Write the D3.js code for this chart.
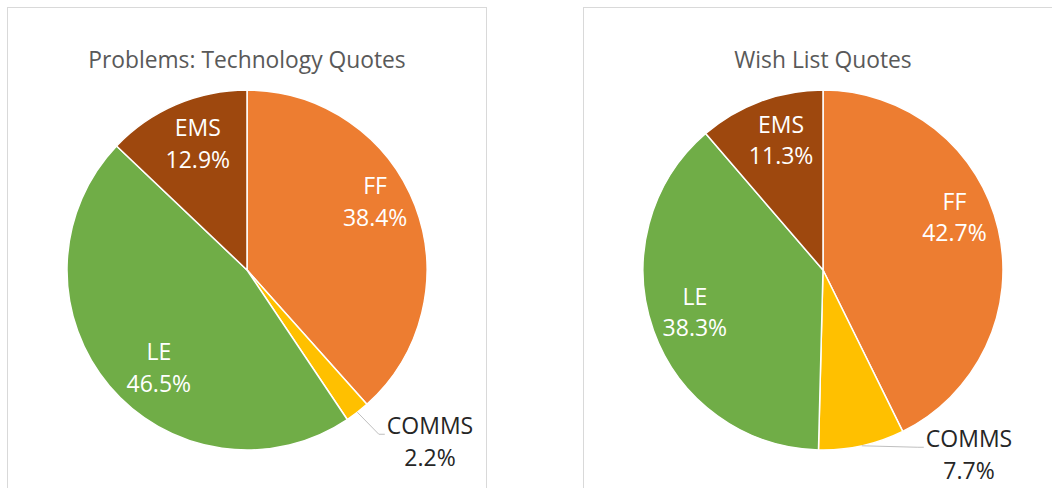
<!DOCTYPE html>
<html>
<head>
<meta charset="utf-8">
<script src="https://cdn.jsdelivr.net/npm/d3@7"></script>
<style>
  html, body { margin: 0; padding: 0; background: #fff; }
  svg { display: block; font-family: "Open Sans", sans-serif; }
</style>
</head>
<body>
<div id="graphicContainer"></div>
<script>

const categories = ["FF", "COMMS", "LE", "EMS"]

const colorsList = ["#ED7D31", "#FFC000", "#70AD47", "#9E480E"]

const techValues = [38.4, 2.2, 46.5, 12.9]

const wishValues = [42.7, 7.7, 38.3, 11.3]

const titles = ["Problems: Technology Quotes", "Wish List Quotes"]

// label placement tweaks (px), relative to the slice centroid
const nudges = [
  { FF: [2, -20], LE: [15, 11], EMS: [4, -2] },
  { FF: [0, -22], LE: [-1, -3], EMS: [5, -3] }
]

// outside label offset for the small slice, relative to pie centre
const outside = [[183, 172], [146, 185]]

const width = 1052
const height = 488
const radius = 180
const lineGap = 31.5

const svg = d3.select("#graphicContainer")
  .append("svg")
  .attr("width", width)
  .attr("height", height)

const colors = d3.scaleOrdinal().domain(categories).range(colorsList)

// panel frames
const panels = [
  { x: 7.5, y: 7.5, w: 479, h: 500, cx: 247, cy: 270 },
  { x: 583.5, y: 7.5, w: 500, h: 500, cx: 823, cy: 270 }
]

const pie = d3.pie().sort(null).startAngle(0).endAngle(2 * Math.PI)

const arc = d3.arc().innerRadius(0).outerRadius(radius)

const labelArc = d3.arc().innerRadius(radius * 0.75).outerRadius(radius * 0.75)

const series = [techValues, wishValues]

panels.forEach((p, idx) => {

  svg.append("rect")
    .attr("x", p.x)
    .attr("y", p.y)
    .attr("width", p.w)
    .attr("height", p.h)
    .attr("fill", "#fff")
    .attr("stroke", "#D9D9D9")
    .attr("stroke-width", 1)

  svg.append("text")
    .attr("x", p.cx)
    .attr("y", 60)
    .attr("dy", "0.35em")
    .attr("text-anchor", "middle")
    .attr("fill", "#595959")
    .style("font-size", "22.8px")
    .text(titles[idx])

  const data = series[idx].map((v, i) => ({ cat: categories[i], value: v }))

  const arcs = pie.value(d => d.value)(data)

  const g = svg.append("g")
    .attr("transform", `translate(${p.cx},${p.cy})`)

  g.selectAll(".slice")
    .data(arcs)
    .enter()
    .append("path")
    .attr("class", "slice")
    .attr("d", arc)
    .attr("fill", d => colors(d.data.cat))
    .attr("stroke", "#fff")
    .attr("stroke-width", 1.5)
    .attr("stroke-linejoin", "round")

  arcs.forEach(d => {

    const lines = [d.data.cat, d.data.value.toFixed(1) + "%"]

    if (d.data.cat == "COMMS") {

      const [ox, oy] = outside[idx]
      const mid = (d.startAngle + d.endAngle) / 2
      const sx = Math.sin(mid) * radius
      const sy = -Math.cos(mid) * radius
      const firstY = oy - lineGap / 2
      const lineY = firstY + 8

      const t = g.append("text")
        .attr("text-anchor", "middle")
        .attr("fill", "#262626")
        .style("font-size", "23px")

      lines.forEach((l, k) => {
        t.append("tspan")
          .attr("x", ox)
          .attr("y", firstY + k * lineGap)
          .attr("dy", "0.35em")
          .text(l)
      })

      const left = ox - t.select("tspan").node().getComputedTextLength() / 2

      g.append("polyline")
        .attr("points", [[sx, sy], [left - 8, lineY], [left - 2, lineY]].map(q => q.join(",")).join(" "))
        .attr("fill", "none")
        .attr("stroke", "#BFBFBF")
        .attr("stroke-width", 1)

    } else {

      const [cx, cy] = labelArc.centroid(d)
      const n = nudges[idx][d.data.cat]

      const t = g.append("text")
        .attr("text-anchor", "middle")
        .attr("fill", "#fff")
        .style("font-size", "23px")

      lines.forEach((l, k) => {
        t.append("tspan")
          .attr("x", cx + n[0])
          .attr("y", cy + n[1] - lineGap / 2 + k * lineGap)
          .attr("dy", "0.35em")
          .text(l)
      })
    }
  })
})

</script>
</body>
</html>
